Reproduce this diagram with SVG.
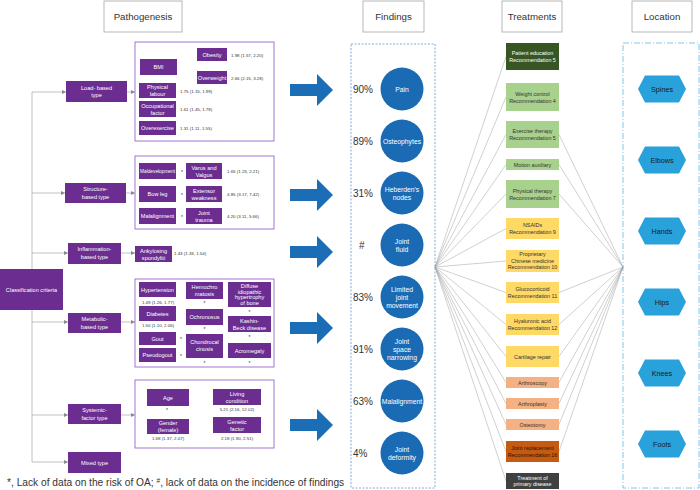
<svg xmlns="http://www.w3.org/2000/svg" width="700" height="490" viewBox="0 0 700 490">
<style>
text{font-family:"Liberation Sans",Arial,sans-serif}
.hdr{fill:#fff;stroke:#a6a6a6;stroke-width:0.8}
.ht{font-size:9.7px;fill:#333;text-anchor:middle}
.pb{fill:#6b2d8f}
.pt{font-size:5.6px;fill:#fff;text-anchor:middle}
.grp{fill:#fff;stroke:#9966cc;stroke-width:0.9}
.val{font-size:4.4px;fill:#333}
.vc{font-size:4.4px;fill:#333;text-anchor:middle}
.st{font-size:5px;fill:#333;text-anchor:middle}
.ln{fill:none;stroke:#999;stroke-width:0.6}
.bmi{fill:none;stroke:#ccc;stroke-width:1.4}
.fan{fill:none;stroke:#a0a0a0;stroke-width:0.5}
.arw{fill:#1b6db5}
.cir{fill:#1a6bb3}
.ct{font-size:6.8px;fill:#fff;text-anchor:middle}
.pct{font-size:10px;fill:#333}
.tt{font-size:5.4px;fill:#333;text-anchor:middle}
.tw{font-size:5.4px;fill:#fff;text-anchor:middle}
.hex{fill:#29a1db}
.hx{font-size:7.2px;fill:#1a1a1a;text-anchor:middle}
</style>
<defs>
<marker id="ah" viewBox="0 0 6 6" refX="6" refY="3" markerWidth="4" markerHeight="4" orient="auto" markerUnits="userSpaceOnUse"><path d="M0,0 L6,3 L0,6 z" fill="#888"/></marker>
<marker id="ah2" viewBox="0 0 6 6" refX="6" refY="3" markerWidth="4" markerHeight="4" orient="auto" markerUnits="userSpaceOnUse"><path d="M0,0 L6,3 L0,6 z" fill="#bbb"/></marker>
</defs>

<!-- headers -->
<g id="hdr-pathogenesis"><rect class="hdr" x="104" y="1" width="78" height="31"/><text class="ht" x="143" y="20">Pathogenesis</text></g>
<g id="hdr-findings"><rect class="hdr" x="363" y="1" width="61" height="31"/><text class="ht" x="393.5" y="20">Findings</text></g>
<g id="hdr-treatments"><rect class="hdr" x="502" y="1" width="60" height="31"/><text class="ht" x="532" y="20">Treatments</text></g>
<g id="hdr-location"><rect class="hdr" x="632" y="1" width="60" height="31"/><text class="ht" x="662" y="20">Location</text></g>

<!-- containers -->
<rect x="351" y="44" width="84" height="444" fill="none" stroke="#5b9bd5" stroke-width="0.8" stroke-dasharray="2,1.5"/>
<rect x="623" y="43" width="76" height="445" fill="none" stroke="#5fb8e8" stroke-width="0.8" stroke-dasharray="6,2,1,2"/>

<!-- connectors -->
<g id="connectors">
<path class="ln" d="M32,92 V462"/>
<path class="ln" d="M32,92 H66" marker-end="url(#ah)"/>
<path class="ln" d="M32,193 H65" marker-end="url(#ah)"/>
<path class="ln" d="M32,253 H68" marker-end="url(#ah)"/>
<path class="ln" d="M32,322 H68" marker-end="url(#ah)"/>
<path class="ln" d="M32,415 H68" marker-end="url(#ah)"/>
<path class="ln" d="M32,462 H68" marker-end="url(#ah)"/>
<path class="ln" d="M127,92 H135" marker-end="url(#ah)"/>
<path class="ln" d="M126,193 H135" marker-end="url(#ah)"/>
<path class="ln" d="M121,253 H135" marker-end="url(#ah)"/>
<path class="ln" d="M121,322 H135" marker-end="url(#ah)"/>
<path class="ln" d="M121,415 H135" marker-end="url(#ah)"/>
<path class="bmi" d="M177,67 H187 M187,54.5 V77.5"/>
<path class="bmi" d="M187,54.5 H197" marker-end="url(#ah2)"/>
<path class="bmi" d="M187,77.5 H197" marker-end="url(#ah2)"/>
<!-- blue arrows -->
<path class="arw" d="M290,84 H317 V74 L333,90 L317,106 V96 H290 Z"/>
<path class="arw" d="M290,189 H317 V179 L333,195 L317,211 V201 H290 Z"/>
<path class="arw" d="M290,246 H317 V236 L333,252 L317,268 V258 H290 Z"/>
<path class="arw" d="M290,322 H317 V312 L333,328 L317,344 V334 H290 Z"/>
<path class="arw" d="M290,419 H317 V409 L333,425 L317,441 V431 H290 Z"/>
<!-- left fan -->
<path class="fan" d="M435,267 L506,56.5 M435,267 L506,97 M435,267 L506,134.5 M435,267 L506,164.5 M435,267 L506,194 M435,267 L506,228.5 M435,267 L506,261 M435,267 L506,292.5 M435,267 L506,324.5 M435,267 L506,356.5 M435,267 L506,382.5 M435,267 L506,403.5 M435,267 L506,424.5 M435,267 L506,451.5 M435,267 L506,481"/>
<!-- right fan -->
<path class="fan" d="M559,134.5 L623,267 M559,164.5 L623,267 M559,194 L623,267 M559,292.5 L623,267 M559,324.5 L623,267 M559,356.5 L623,267 M559,382.5 L623,267 M559,403.5 L623,267 M559,424.5 L623,267 M559,451.5 L623,267"/>
</g>

<!-- classification -->
<g id="classification"><rect class="pb" x="0" y="269" width="63" height="41"/><text class="pt" x="31.5" y="291.5">Classification criteria</text></g>

<!-- type boxes -->
<g id="type-load"><rect class="pb" x="66" y="81" width="61" height="21"/><text class="pt" x="96.5" y="89.5">Load- based</text><text class="pt" x="96.5" y="97">type</text></g>
<g id="type-structure"><rect class="pb" x="65" y="183" width="61" height="20"/><text class="pt" x="95.5" y="191">Structure-</text><text class="pt" x="95.5" y="198.5">based type</text></g>
<g id="type-inflammation"><rect class="pb" x="68" y="243" width="53" height="21"/><text class="pt" x="94.5" y="251">Inflammation-</text><text class="pt" x="94.5" y="258.5">based type</text></g>
<g id="type-metabolic"><rect class="pb" x="68" y="313" width="53" height="20"/><text class="pt" x="94.5" y="321">Metabolic-</text><text class="pt" x="94.5" y="328.5">based type</text></g>
<g id="type-systemic"><rect class="pb" x="68" y="404" width="53" height="20"/><text class="pt" x="94.5" y="412">Systemic-</text><text class="pt" x="94.5" y="419.5">factor type</text></g>
<g id="type-mixed"><rect class="pb" x="68" y="452" width="53" height="21"/><text class="pt" x="94.5" y="464.5">Mixed type</text></g>

<!-- load group -->
<g id="group-load">
<rect class="grp" x="135" y="42" width="139" height="99"/>
<rect class="pb" x="140" y="59" width="37" height="16"/><text class="pt" x="158.5" y="69">BMI</text>
<rect class="pb" x="197" y="48" width="30" height="13"/><text class="pt" x="212" y="56.5">Obesity</text>
<text class="val" x="231" y="56.5">1.98 (1.57, 2.20)</text>
<rect class="pb" x="197" y="71" width="30" height="13"/><text class="pt" x="212" y="79.5" textLength="28.5" lengthAdjust="spacingAndGlyphs">Overweight</text>
<text class="val" x="231" y="79.5">2.66 (2.15, 3.28)</text>
<rect class="pb" x="139" y="83" width="37" height="15"/><text class="pt" x="157.5" y="89">Physical</text><text class="pt" x="157.5" y="96">labour</text>
<text class="val" x="180" y="92.5">1.75 (1.15, 1.99)</text>
<rect class="pb" x="139" y="101" width="37" height="16"/><text class="pt" x="157.5" y="107.5">Occupational</text><text class="pt" x="157.5" y="114.5">factor</text>
<text class="val" x="180" y="110.5">1.61 (1.45, 1.78)</text>
<rect class="pb" x="139" y="121" width="37" height="14"/><text class="pt" x="157.5" y="130">Overexercise</text>
<text class="val" x="180" y="129.5">1.31 (1.11, 1.55)</text>
</g>

<!-- structure group -->
<g id="group-structure">
<rect class="grp" x="135" y="156" width="139" height="73"/>
<rect class="pb" x="139" y="163" width="37" height="16"/><text class="pt" x="157.5" y="173" textLength="35" lengthAdjust="spacingAndGlyphs">Maldevelopment</text>
<text class="st" x="182" y="174">*</text>
<rect class="pb" x="186" y="163" width="36" height="16"/><text class="pt" x="204" y="169.5">Varus and</text><text class="pt" x="204" y="176.5">Valgus</text>
<text class="val" x="227" y="173">1.65 (1.23, 2.21)</text>
<rect class="pb" x="139" y="186" width="37" height="16"/><text class="pt" x="157.5" y="196">Bow leg</text>
<text class="st" x="182" y="197">*</text>
<rect class="pb" x="186" y="186" width="36" height="16"/><text class="pt" x="204" y="192.5">Extensor</text><text class="pt" x="204" y="199.5">weakness</text>
<text class="val" x="227" y="196">4.85 (3.17, 7.42)</text>
<rect class="pb" x="139" y="208" width="37" height="16"/><text class="pt" x="157.5" y="218">Malalignment</text>
<text class="st" x="182" y="219">*</text>
<rect class="pb" x="186" y="208" width="36" height="16"/><text class="pt" x="204" y="214.5">Joint</text><text class="pt" x="204" y="221.5">trauma</text>
<text class="val" x="227" y="218">4.20 (3.11, 5.66)</text>
</g>

<!-- inflammation -->
<g id="group-inflammation">
<rect class="pb" x="135" y="246" width="37" height="16"/><text class="pt" x="153.5" y="252.5">Ankylosing</text><text class="pt" x="153.5" y="259.5">spondyliti</text>
<text class="val" x="174" y="255">1.43 (1.33, 1.54)</text>
</g>

<!-- metabolic group -->
<g id="group-metabolic">
<rect class="grp" x="135" y="279" width="139" height="88"/>
<rect class="pb" x="139" y="282" width="37" height="15"/><text class="pt" x="157.5" y="291.5">Hypertension</text>
<text class="vc" x="158" y="303.5">1.49 (1.26, 1.77)</text>
<rect class="pb" x="139" y="306" width="37" height="15"/><text class="pt" x="157.5" y="315.5">Diabetes</text>
<text class="vc" x="158" y="326.5">1.50 (1.10, 2.06)</text>
<rect class="pb" x="139" y="332" width="37" height="13"/><text class="pt" x="157.5" y="340.5">Gout</text>
<text class="st" x="181" y="341">*</text>
<rect class="pb" x="139" y="348" width="37" height="14"/><text class="pt" x="157.5" y="357">Pseudogout</text>
<text class="st" x="181" y="358">*</text>
<rect class="pb" x="186" y="282" width="37" height="17"/><text class="pt" x="204.5" y="289">Hemochro</text><text class="pt" x="204.5" y="296">matosis</text>
<text class="st" x="204.5" y="305">*</text>
<rect class="pb" x="186" y="309" width="37" height="16"/><text class="pt" x="204.5" y="319">Ochronosus</text>
<text class="st" x="204.5" y="331">*</text>
<rect class="pb" x="186" y="334" width="37" height="24"/><text class="pt" x="204.5" y="344">Chondrocal</text><text class="pt" x="204.5" y="351">cinosis</text>
<text class="st" x="204.5" y="365">*</text>
<rect class="pb" x="228" y="282" width="43" height="25"/><text class="pt" x="249.5" y="288">Diffuse</text><text class="pt" x="249.5" y="293.5">idiopathic</text><text class="pt" x="249.5" y="299">hypertrophy</text><text class="pt" x="249.5" y="304.5">of bone</text>
<text class="st" x="249.5" y="314">*</text>
<rect class="pb" x="228" y="316" width="43" height="16"/><text class="pt" x="249.5" y="322.5">Kashin-</text><text class="pt" x="249.5" y="329.5">Beck disease</text>
<text class="st" x="249.5" y="339">*</text>
<rect class="pb" x="228" y="343" width="43" height="15"/><text class="pt" x="249.5" y="352.5">Acromegaly</text>
<text class="st" x="249.5" y="365">*</text>
</g>

<!-- systemic group -->
<g id="group-systemic">
<rect class="grp" x="135" y="380" width="139" height="68"/>
<rect class="pb" x="147" y="389" width="42" height="17"/><text class="pt" x="168" y="399.5">Age</text>
<text class="st" x="167" y="412">*</text>
<rect class="pb" x="213" y="389" width="48" height="16"/><text class="pt" x="237" y="395.5">Living</text><text class="pt" x="237" y="402.5">condition</text>
<text class="vc" x="237" y="410.5">5.21 (2.16, 12.02)</text>
<rect class="pb" x="147" y="419" width="42" height="15"/><text class="pt" x="168" y="425">Gender</text><text class="pt" x="168" y="432">(female)</text>
<text class="vc" x="168" y="440">1.68 (1.37, 2.07)</text>
<rect class="pb" x="213" y="417" width="48" height="16"/><text class="pt" x="237" y="423.5">Genetic</text><text class="pt" x="237" y="430.5">factor</text>
<text class="vc" x="237" y="440">2.18 (1.90, 2.51)</text>
</g>

<!-- footnote -->
<text x="7" y="486" style="font-size:10.2px;fill:#333">*, Lack of data on the risk of OA; <tspan dy="-3" style="font-size:6.5px">#</tspan><tspan dy="3">, lack of data on the incidence of findings</tspan></text>

<!-- findings -->
<g id="finding-pain"><text class="pct" x="353" y="92.5">90%</text><circle class="cir" cx="402" cy="89" r="21.5"/><text class="ct" x="402" y="91.5">Pain</text></g>
<g id="finding-osteophytes"><text class="pct" x="353" y="144.5">89%</text><circle class="cir" cx="402" cy="141" r="21.5"/><text class="ct" x="402" y="143.5">Osteophytes</text></g>
<g id="finding-heberden"><text class="pct" x="353" y="196.5">31%</text><circle class="cir" cx="402" cy="193" r="21.5"/><text class="ct" x="402" y="191.5">Heberden's</text><text class="ct" x="402" y="199.5">nodes</text></g>
<g id="finding-fluid"><text class="pct" x="359" y="248.5">#</text><circle class="cir" cx="402" cy="245" r="21.5"/><text class="ct" x="402" y="243.5">Joint</text><text class="ct" x="402" y="251.5">fluid</text></g>
<g id="finding-limited"><text class="pct" x="353" y="300.5">83%</text><circle class="cir" cx="402" cy="297" r="21.5"/><text class="ct" x="402" y="291.5">Limited</text><text class="ct" x="402" y="299.5">joint</text><text class="ct" x="402" y="307.5">movement</text></g>
<g id="finding-space"><text class="pct" x="353" y="352.5">91%</text><circle class="cir" cx="402" cy="349" r="21.5"/><text class="ct" x="402" y="343.5">Joint</text><text class="ct" x="402" y="351.5">space</text><text class="ct" x="402" y="359.5">narrowing</text></g>
<g id="finding-malalignment"><text class="pct" x="353" y="404.5">63%</text><circle class="cir" cx="402" cy="401" r="21.5"/><text class="ct" x="402" y="403.5">Malalignment</text></g>
<g id="finding-deformity"><text class="pct" x="353" y="456.5">4%</text><circle class="cir" cx="402" cy="453" r="21.5"/><text class="ct" x="402" y="451.5">Joint</text><text class="ct" x="402" y="459.5">deformity</text></g>

<!-- treatments -->
<g id="tr-patient-education"><rect x="506" y="43" width="53" height="27" fill="#375623"/><text class="tw" x="532.5" y="55">Patient education</text><text class="tw" x="532.5" y="62">Recommendation 5</text></g>
<g id="tr-weight-control"><rect x="506" y="83" width="53" height="28" fill="#a9d18e"/><text class="tt" x="532.5" y="95.5">Weight control</text><text class="tt" x="532.5" y="102.5">Recommendation 4</text></g>
<g id="tr-exercise"><rect x="506" y="121" width="53" height="27" fill="#a9d18e"/><text class="tt" x="532.5" y="133">Exercise therapy</text><text class="tt" x="532.5" y="140">Recommendation 5</text></g>
<g id="tr-motion"><rect x="506" y="159" width="53" height="11" fill="#a9d18e"/><text class="tt" x="532.5" y="166.5">Motion auxiliary</text></g>
<g id="tr-physical"><rect x="506" y="180" width="53" height="28" fill="#a9d18e"/><text class="tt" x="532.5" y="192.5">Physical therapy</text><text class="tt" x="532.5" y="199.5">Recommendation 7</text></g>
<g id="tr-nsaids"><rect x="506" y="218" width="53" height="21" fill="#ffd966"/><text class="tt" x="532.5" y="227">NSAIDs</text><text class="tt" x="532.5" y="234">Recommendation 9</text></g>
<g id="tr-proprietary"><rect x="506" y="250" width="53" height="22" fill="#ffd966"/><text class="tt" x="532.5" y="256">Proprietary</text><text class="tt" x="532.5" y="262.5">Chinese medicine</text><text class="tt" x="532.5" y="269">Recommendation 10</text></g>
<g id="tr-glucocorticoid"><rect x="506" y="282" width="53" height="21" fill="#ffd966"/><text class="tt" x="532.5" y="291">Glucocorticoid</text><text class="tt" x="532.5" y="298">Recommendation 11</text></g>
<g id="tr-hyaluronic"><rect x="506" y="314" width="53" height="21" fill="#ffd966"/><text class="tt" x="532.5" y="323">Hyaluronic acid</text><text class="tt" x="532.5" y="330">Recommendation 12</text></g>
<g id="tr-cartilage"><rect x="506" y="346" width="53" height="21" fill="#ffd966"/><text class="tt" x="532.5" y="358.5">Cartilage repair</text></g>
<g id="tr-arthroscopy"><rect x="506" y="377" width="53" height="11" fill="#f4b183"/><text class="tt" x="532.5" y="384.5">Arthroscopy</text></g>
<g id="tr-arthroplasty"><rect x="506" y="398" width="53" height="11" fill="#f4b183"/><text class="tt" x="532.5" y="405.5">Arthroplasty</text></g>
<g id="tr-osteotomy"><rect x="506" y="419" width="53" height="11" fill="#f4b183"/><text class="tt" x="532.5" y="426.5">Osteotomy</text></g>
<g id="tr-joint-replacement"><rect x="506" y="441" width="53" height="21" fill="#c55a11"/><text class="tt" x="532.5" y="450" style="fill:#2a1208">Joint replacement</text><text class="tt" x="532.5" y="457" style="fill:#2a1208">Recommendation 16</text></g>
<g id="tr-primary"><rect x="506" y="473" width="53" height="16" fill="#404040"/><text class="tw" x="532.5" y="479.5">Treatment of</text><text class="tw" x="532.5" y="486">primary disease</text></g>

<!-- locations -->
<g id="loc-spines"><polygon class="hex" points="638,89 645,75.5 679,75.5 686,89 679,102.5 645,102.5"/><text class="hx" x="662" y="91.5">Spines</text></g>
<g id="loc-elbows"><polygon class="hex" points="638,160 645,146.5 679,146.5 686,160 679,173.5 645,173.5"/><text class="hx" x="662" y="162.5">Elbows</text></g>
<g id="loc-hands"><polygon class="hex" points="638,231 645,217.5 679,217.5 686,231 679,244.5 645,244.5"/><text class="hx" x="662" y="233.5">Hands</text></g>
<g id="loc-hips"><polygon class="hex" points="638,302 645,288.5 679,288.5 686,302 679,315.5 645,315.5"/><text class="hx" x="662" y="304.5">Hips</text></g>
<g id="loc-knees"><polygon class="hex" points="638,373 645,359.5 679,359.5 686,373 679,386.5 645,386.5"/><text class="hx" x="662" y="375.5">Knees</text></g>
<g id="loc-foots"><polygon class="hex" points="638,444 645,430.5 679,430.5 686,444 679,457.5 645,457.5"/><text class="hx" x="662" y="446.5">Foots</text></g>
</svg>
